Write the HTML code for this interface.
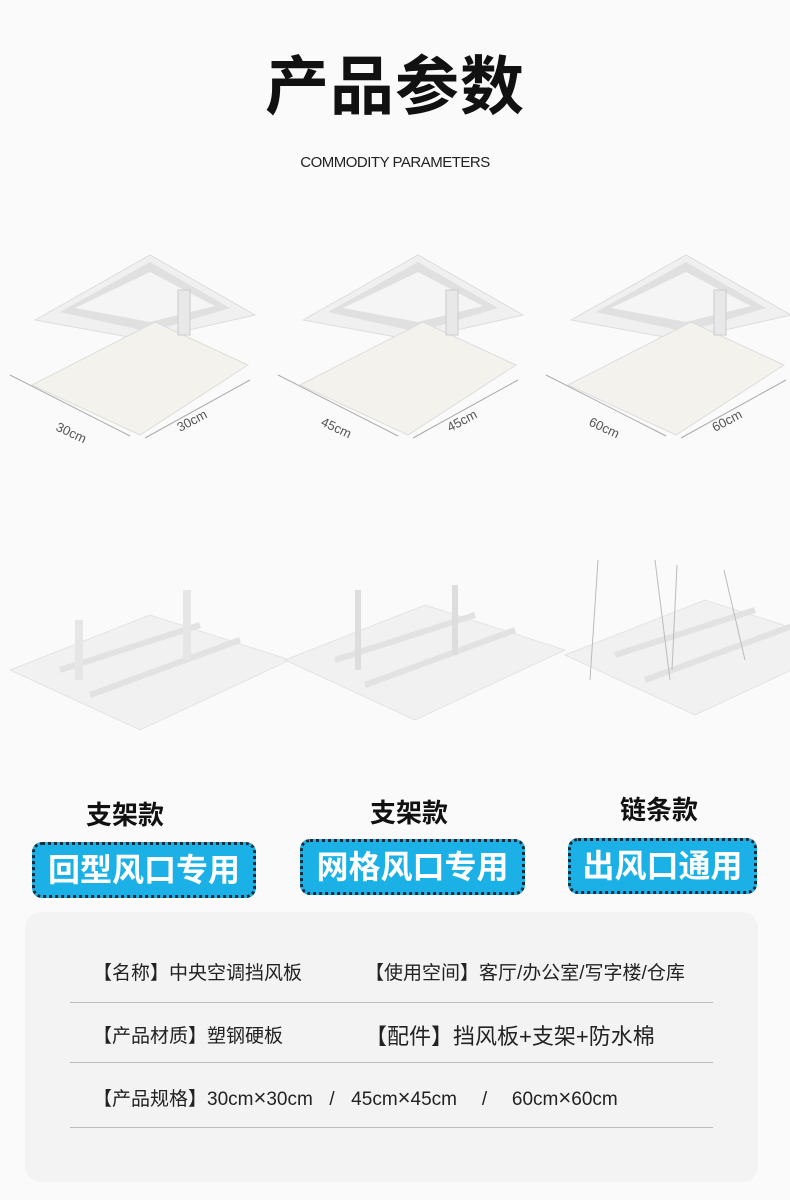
<!DOCTYPE html>
<html><head><meta charset="utf-8"><style>
body{margin:0;width:790px;height:1200px;background:#fafafa;position:relative;overflow:hidden;font-family:"Liberation Sans","Noto Sans CJK SC",sans-serif}
.a{position:absolute}
.t{left:0;width:790px;text-align:center}
.badge{position:absolute;background:#1bb1e6;border:3px dotted #1a2a3a;border-radius:10px;color:#fff;font-size:32px;font-weight:bold;text-align:center;line-height:50px;height:50px}
.lbl{position:absolute;font-size:26px;font-weight:bold;color:#111}
.row{position:absolute;font-size:19px;color:#222}
.line{position:absolute;left:70px;width:643px;height:1px;background:#bbb}
</style></head><body>
<div class="a t" style="top:36px;font-size:64px;font-weight:bold;color:#111;letter-spacing:1px">产品参数</div>
<div class="a t" style="top:154px;font-size:15px;color:#222;letter-spacing:-0.5px">COMMODITY PARAMETERS</div>
<svg class="a" style="left:0;top:240px" width="790" height="520">
<defs><g id="p">
<polygon points="35,80 150,15 255,75 145,100" fill="#f0f0f0" stroke="#ddd"/>
<polygon points="60,72 150,22 230,68 150,92" fill="#e0e0e0"/>
<polygon points="75,68 150,32 215,66 150,82" fill="#f5f5f5"/>
<polygon points="32,145 155,82 248,125 140,195" fill="#f3f2ec" stroke="#ddd"/>
<rect x="178" y="50" width="12" height="45" fill="#e8e8e8" stroke="#ccc"/>
<line x1="10" y1="135" x2="130" y2="196" stroke="#aaa"/>
<line x1="145" y1="198" x2="250" y2="140" stroke="#aaa"/>
</g>
<g id="b"><polygon points="10,440 150,385 290,430 140,500" fill="#f1f1f1" stroke="#e4e4e4"/>
<line x1="60" y1="440" x2="200" y2="395" stroke="#e2e2e2" stroke-width="6"/>
<line x1="90" y1="465" x2="240" y2="410" stroke="#e2e2e2" stroke-width="6"/></g></defs>
<use href="#p"/><use href="#p" x="268"/><use href="#p" x="536"/>
<text x="55" y="190" font-size="13" fill="#555" transform="rotate(25 55 190)">30cm</text>
<text x="180" y="192" font-size="13" fill="#555" transform="rotate(-28 180 192)">30cm</text>
<text x="320" y="185" font-size="13" fill="#555" transform="rotate(25 320 185)">45cm</text>
<text x="450" y="192" font-size="13" fill="#555" transform="rotate(-28 450 192)">45cm</text>
<text x="588" y="185" font-size="13" fill="#555" transform="rotate(25 588 185)">60cm</text>
<text x="715" y="192" font-size="13" fill="#555" transform="rotate(-28 715 192)">60cm</text>
<use href="#b" y="-10"/><use href="#b" x="275" y="-20"/><use href="#b" x="555" y="-25"/>
<rect x="183" y="350" width="8" height="70" fill="#e6e6e6"/><rect x="75" y="380" width="8" height="60" fill="#e6e6e6"/>
<rect x="355" y="350" width="6" height="80" fill="#ddd"/><rect x="452" y="345" width="6" height="70" fill="#ddd"/>
<line x1="598" y1="320" x2="590" y2="440" stroke="#bbb"/><line x1="655" y1="320" x2="670" y2="440" stroke="#bbb"/>
<line x1="677" y1="325" x2="672" y2="430" stroke="#bbb"/><line x1="724" y1="330" x2="745" y2="420" stroke="#bbb"/>
</svg>
<div class="lbl" style="left:86px;top:795px">支架款</div>
<div class="lbl" style="left:370px;top:793px">支架款</div>
<div class="lbl" style="left:620px;top:790px">链条款</div>
<div class="badge" style="left:32px;top:842px;width:218px">回型风口专用</div>
<div class="badge" style="left:300px;top:839px;width:219px">网格风口专用</div>
<div class="badge" style="left:568px;top:838px;width:183px">出风口通用</div>
<div class="a" style="left:25px;top:912px;width:733px;height:270px;background:#f3f3f3;border-radius:16px"></div>
<div class="row" style="left:93px;top:958px">【名称】中央空调挡风板</div>
<div class="row" style="left:365px;top:958px">【使用空间】客厅/办公室/写字楼/仓库</div>
<div class="line" style="top:1002px"></div>
<div class="row" style="left:93px;top:1021px">【产品材质】塑钢硬板</div>
<div class="row" style="left:365px;top:1019px;font-size:22px">【配件】挡风板+支架+防水棉</div>
<div class="line" style="top:1062px"></div>
<div class="row" style="left:93px;top:1084px;word-spacing:3px">【产品规格】30cm<span style="font-size:22px">×</span>30cm &nbsp;/ &nbsp;45cm<span style="font-size:22px">×</span>45cm &nbsp;&nbsp;/ &nbsp;&nbsp;60cm<span style="font-size:22px">×</span>60cm</div>
<div class="line" style="top:1127px"></div>
</body></html>
